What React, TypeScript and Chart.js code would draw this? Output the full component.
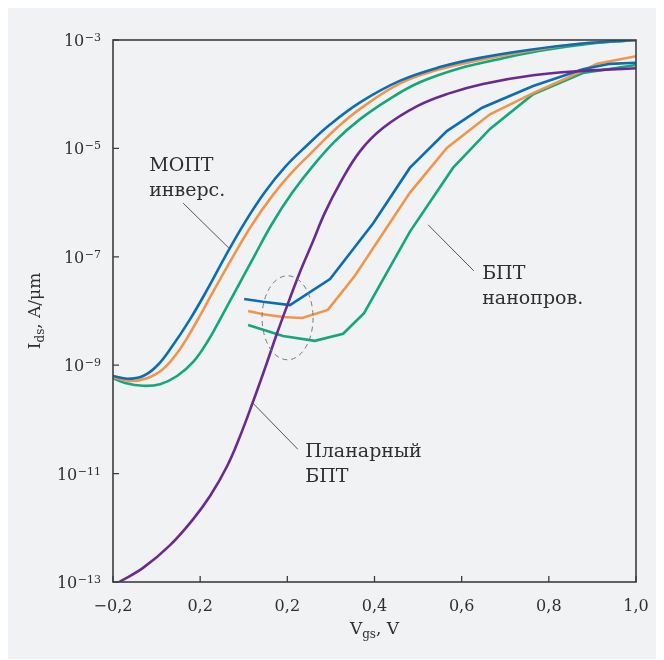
import React, { useEffect, useRef } from "react";
import { Chart, registerables } from "chart.js";

Chart.register(...registerables);

const FONT = "'DejaVu Serif', serif";
const TEXT = "#2f2f2f";

// Axis tick labels
const xTickLabels = ["−0,2", "0,2", "0,2", "0,4", "0,6", "0,8", "1,0"];
const yTickExponents = [-13, -11, -9, -7, -5, -3];

// Planar BJT: gate voltage (V) and log10 of drain current (A/µm)
const planarV = [-0.186, -0.131, -0.069, -0.016, 0.023, 0.062, 0.091, 0.121, 0.149, 0.176, 0.202, 0.229, 0.257, 0.286, 0.321, 0.367, 0.42, 0.498, 0.573, 0.649, 0.764, 0.878, 1.0];
const planarLogI = [-13.0, -12.74, -12.32, -11.84, -11.41, -10.86, -10.32, -9.68, -9.05, -8.42, -7.85, -7.28, -6.75, -6.19, -5.64, -5.05, -4.62, -4.22, -3.98, -3.81, -3.65, -3.57, -3.52];

// Inversion-mode MOSFET, three variants
const mosBlueV = [-0.2, -0.166, -0.131, -0.099, -0.065, -0.023, 0.018, 0.057, 0.103, 0.149, 0.195, 0.243, 0.298, 0.367, 0.459, 0.55, 0.642, 0.757, 0.872, 1.0];
const mosBlueLogI = [-9.2, -9.25, -9.2, -9.01, -8.66, -8.15, -7.58, -7.0, -6.36, -5.8, -5.34, -4.96, -4.56, -4.15, -3.75, -3.5, -3.33, -3.18, -3.07, -3.0];

const mosOrangeV = [-0.2, -0.161, -0.122, -0.085, -0.046, -0.007, 0.032, 0.075, 0.119, 0.165, 0.211, 0.259, 0.314, 0.367, 0.459, 0.55, 0.642, 0.757, 0.872, 1.0];
const mosOrangeLogI = [-9.22, -9.29, -9.24, -9.07, -8.7, -8.18, -7.61, -7.0, -6.41, -5.88, -5.44, -5.05, -4.62, -4.27, -3.8, -3.54, -3.37, -3.2, -3.07, -3.0];

const mosGreenV = [-0.2, -0.172, -0.131, -0.092, -0.053, -0.016, 0.018, 0.05, 0.087, 0.124, 0.165, 0.211, 0.257, 0.309, 0.367, 0.436, 0.504, 0.596, 0.688, 0.78, 0.894, 1.0];
const mosGreenLogI = [-9.24, -9.33, -9.38, -9.35, -9.2, -8.94, -8.55, -8.09, -7.54, -6.99, -6.39, -5.82, -5.34, -4.87, -4.46, -4.08, -3.78, -3.52, -3.35, -3.2, -3.07, -3.0];

// Nanowire BJT, three variants
const nwBlueV = [0.101, 0.144, 0.206, 0.298, 0.397, 0.481, 0.566, 0.647, 0.764, 0.878, 0.94, 1.0];
const nwBlueLogI = [-7.78, -7.83, -7.89, -7.41, -6.38, -5.36, -4.68, -4.25, -3.85, -3.54, -3.44, -3.42];

const nwOrangeV = [0.11, 0.144, 0.19, 0.234, 0.293, 0.355, 0.481, 0.566, 0.665, 0.764, 0.842, 0.911, 1.0];
const nwOrangeLogI = [-8.0, -8.06, -8.11, -8.13, -7.98, -7.35, -5.82, -4.99, -4.37, -3.98, -3.7, -3.44, -3.3];

const nwGreenV = [0.11, 0.19, 0.263, 0.328, 0.376, 0.481, 0.58, 0.665, 0.764, 0.878, 1.0];
const nwGreenLogI = [-8.26, -8.46, -8.55, -8.42, -8.04, -6.54, -5.36, -4.64, -4.0, -3.61, -3.46];

const BLUE = "#0b6db3";
const ORANGE = "#f0964b";
const GREEN = "#13a77b";
const PURPLE = "#6a2a90";

const toPoints = (v: number[], logI: number[]) =>
  v.map((x, i) => ({ x, y: Math.pow(10, logI[i]) }));

// Text labels and leader lines, positioned in data coordinates (V, log10 I)
const curveLabels = [
  { lines: ["МОПТ", "инверс."], v: -0.117, logI: -5.42 },
  { lines: ["БПТ", "нанопров."], v: 0.647, logI: -7.41 },
  { lines: ["Планарный", "БПТ"], v: 0.241, logI: -10.69 },
];
const leaders = [
  { from: [-0.039, -6.01], to: [0.066, -6.84] },
  { from: [0.523, -6.41], to: [0.628, -7.26] },
  { from: [0.121, -9.7], to: [0.224, -10.55] },
];
// Dashed ellipse around the nanowire off-state region
const ellipseV = [0.142, 0.259];
const ellipseLogI = [-7.35, -8.9];

const overlay = {
  id: "overlay",
  afterDraw(chart: any) {
    const { ctx, chartArea } = chart;
    const xs = chart.scales.x;
    const ys = chart.scales.y;
    const px = (v: number) => xs.getPixelForValue(v);
    const py = (e: number) => ys.getPixelForValue(Math.pow(10, e));

    ctx.save();

    // frame
    ctx.strokeStyle = "#3c3c3c";
    ctx.lineWidth = 1.6;
    ctx.strokeRect(chartArea.left, chartArea.top, chartArea.right - chartArea.left, chartArea.bottom - chartArea.top);

    // inward tick marks
    ctx.lineWidth = 1.3;
    ctx.beginPath();
    xs.ticks.forEach((t: any) => {
      const x = px(t.value);
      ctx.moveTo(x, chartArea.bottom);
      ctx.lineTo(x, chartArea.bottom - 6);
    });
    ys.ticks.forEach((t: any) => {
      const y = ys.getPixelForValue(t.value);
      ctx.moveTo(chartArea.left, y);
      ctx.lineTo(chartArea.left + 6, y);
    });
    ctx.stroke();

    // y tick labels: 10 with superscript exponent
    ctx.fillStyle = TEXT;
    ctx.textBaseline = "alphabetic";
    ys.ticks.forEach((t: any) => {
      const e = Math.round(Math.log10(t.value));
      const y = ys.getPixelForValue(t.value);
      const sup = "−" + String(Math.abs(e));
      ctx.font = `11px ${FONT}`;
      const supW = ctx.measureText(sup).width;
      const right = chartArea.left - 12;
      ctx.textAlign = "left";
      ctx.fillText(sup, right - supW, y + 1);
      ctx.font = `16px ${FONT}`;
      ctx.textAlign = "right";
      ctx.fillText("10", right - supW - 0.5, y + 6);
    });

    // axis titles with subscripts
    const drawRuns = (runs: { t: string; size: number; dy: number }[], cx: number, cy: number) => {
      let w = 0;
      runs.forEach((r) => {
        ctx.font = `${r.size}px ${FONT}`;
        w += ctx.measureText(r.t).width;
      });
      let x = cx - w / 2;
      ctx.textAlign = "left";
      runs.forEach((r) => {
        ctx.font = `${r.size}px ${FONT}`;
        ctx.fillText(r.t, x, cy + r.dy);
        x += ctx.measureText(r.t).width;
      });
    };
    const midX = (chartArea.left + chartArea.right) / 2;
    drawRuns(
      [
        { t: "V", size: 17, dy: 0 },
        { t: "gs", size: 12, dy: 4 },
        { t: ", V", size: 17, dy: 0 },
      ],
      midX,
      chartArea.bottom + 52
    );
    ctx.save();
    ctx.translate(chartArea.left - 79, (chartArea.top + chartArea.bottom) / 2);
    ctx.rotate(-Math.PI / 2);
    drawRuns(
      [
        { t: "I", size: 17, dy: 0 },
        { t: "ds", size: 12, dy: 4 },
        { t: ", A/μm", size: 17, dy: 0 },
      ],
      0,
      6
    );
    ctx.restore();

    // leader lines
    ctx.strokeStyle = "#555";
    ctx.lineWidth = 1;
    ctx.beginPath();
    leaders.forEach((l) => {
      ctx.moveTo(px(l.from[0]), py(l.from[1]));
      ctx.lineTo(px(l.to[0]), py(l.to[1]));
    });
    ctx.stroke();

    // dashed ellipse
    const ex0 = px(ellipseV[0]);
    const ex1 = px(ellipseV[1]);
    const ey0 = py(ellipseLogI[0]);
    const ey1 = py(ellipseLogI[1]);
    ctx.setLineDash([5, 4]);
    ctx.strokeStyle = "#777";
    ctx.beginPath();
    ctx.ellipse((ex0 + ex1) / 2, (ey0 + ey1) / 2, (ex1 - ex0) / 2, (ey1 - ey0) / 2, 0, 0, Math.PI * 2);
    ctx.stroke();
    ctx.setLineDash([]);

    // curve labels
    ctx.fillStyle = TEXT;
    ctx.font = `19px ${FONT}`;
    ctx.textAlign = "left";
    curveLabels.forEach((c) => {
      c.lines.forEach((s, i) => {
        ctx.fillText(s, px(c.v), py(c.logI) + i * 25);
      });
    });

    ctx.restore();
  },
};

export default function App() {
  const ref = useRef<HTMLCanvasElement | null>(null);

  useEffect(() => {
    if (!ref.current) return;
    const smooth = { tension: 0.4 };
    const base = { pointRadius: 0, borderWidth: 2.6, fill: false };
    const chart = new Chart(ref.current, {
      type: "line",
      data: {
        datasets: [
          { ...base, ...smooth, label: "Планарный БПТ", data: toPoints(planarV, planarLogI), borderColor: PURPLE },
          { ...base, ...smooth, label: "МОПТ 1", data: toPoints(mosBlueV, mosBlueLogI), borderColor: BLUE },
          { ...base, ...smooth, label: "МОПТ 2", data: toPoints(mosOrangeV, mosOrangeLogI), borderColor: ORANGE },
          { ...base, ...smooth, label: "МОПТ 3", data: toPoints(mosGreenV, mosGreenLogI), borderColor: GREEN },
          { ...base, tension: 0, label: "БПТ 1", data: toPoints(nwBlueV, nwBlueLogI), borderColor: BLUE },
          { ...base, tension: 0, label: "БПТ 2", data: toPoints(nwOrangeV, nwOrangeLogI), borderColor: ORANGE },
          { ...base, tension: 0, label: "БПТ 3", data: toPoints(nwGreenV, nwGreenLogI), borderColor: GREEN },
        ],
      },
      options: {
        animation: false,
        responsive: false,
        maintainAspectRatio: false,
        layout: { padding: { top: 36, right: 20, left: 0, bottom: 0 } },
        plugins: { legend: { display: false }, tooltip: { enabled: false } },
        scales: {
          x: {
            type: "linear",
            min: -0.2,
            max: 1.0,
            ticks: {
              stepSize: 0.2,
              autoSkip: false,
              maxRotation: 0,
              padding: 7,
              color: TEXT,
              font: { family: FONT, size: 16 },
              callback: (_v: any, i: number) => xTickLabels[i],
            },
            grid: { display: false },
            border: { display: false },
            afterFit: (s: any) => {
              s.height = 77;
            },
          },
          y: {
            type: "logarithmic",
            min: 1e-13,
            max: 1e-3,
            afterBuildTicks: (s: any) => {
              s.ticks = yTickExponents.map((e) => ({ value: Math.pow(10, e) }));
            },
            ticks: { display: false },
            grid: { display: false },
            border: { display: false },
            afterFit: (s: any) => {
              s.width = 105;
            },
          },
        },
      },
      plugins: [overlay],
    });
    return () => chart.destroy();
  }, []);

  return (
    <div style={{ width: 648, height: 655, marginTop: -4, background: "#f1f2f4" }}>
      <canvas ref={ref} width={648} height={655} style={{ display: "block" }} />
    </div>
  );
}
